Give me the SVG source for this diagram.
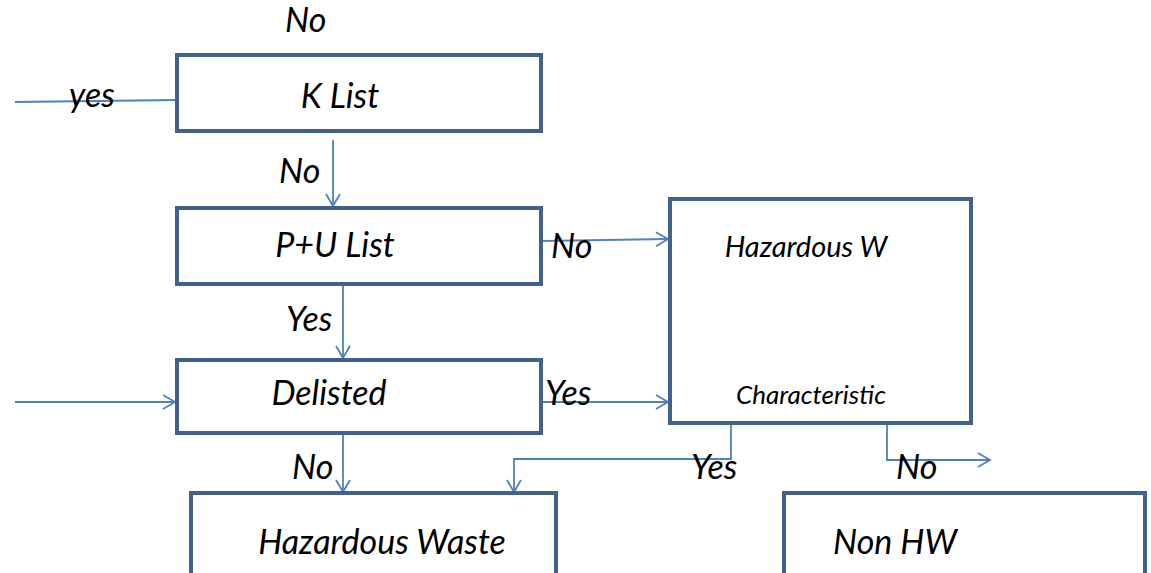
<svg xmlns="http://www.w3.org/2000/svg" width="1151" height="573" viewBox="0 0 1151 573">
  <style>
    .box { fill: #ffffff; stroke: #41618f; stroke-width: 4; }
    .conn { fill: none; stroke: #4f81bd; stroke-width: 1.8; }
    .lbl { font-family: Lato, "Open Sans", "Liberation Sans", sans-serif; font-style: italic; fill: #000000; }
    .big { font-size: 34px; }
    .mid { font-size: 29px; }
    .small { font-size: 26px; }
  </style>
  <defs>
    <marker id="chev" markerUnits="userSpaceOnUse" markerWidth="16" markerHeight="18" refX="13" refY="8" orient="auto" viewBox="0 0 16 18">
      <path d="M1,1 L13,8 L1,15" fill="none" stroke="#4f81bd" stroke-width="1.8"/>
    </marker>
  </defs>

  <rect width="1151" height="573" fill="#ffffff"/>

  <g id="connectors">
    <line class="conn" x1="15" y1="102" x2="177" y2="100"/>
    <line class="conn" x1="333" y1="140" x2="333" y2="206" marker-end="url(#chev)"/>
    <line class="conn" x1="541" y1="241" x2="668" y2="239" marker-end="url(#chev)"/>
    <line class="conn" x1="343" y1="284" x2="343" y2="358" marker-end="url(#chev)"/>
    <line class="conn" x1="15" y1="402" x2="175" y2="402" marker-end="url(#chev)"/>
    <line class="conn" x1="541" y1="402" x2="668" y2="402" marker-end="url(#chev)"/>
    <line class="conn" x1="343" y1="433" x2="343" y2="492" marker-end="url(#chev)"/>
    <polyline class="conn" points="731,424 731,459 514,459 514,492" marker-end="url(#chev)"/>
    <polyline class="conn" points="887,424 887,460 990,460" marker-end="url(#chev)"/>
  </g>

  <g id="label-top-no"><text class="lbl big" x="285" y="32">No</text></g>

  <g id="k-list">
    <rect class="box" x="177" y="55" width="364" height="76"/>
    <text class="lbl big" x="340" y="108" text-anchor="middle">K List</text>
  </g>
  <g id="label-yes-k"><text class="lbl big" x="69" y="107">yes</text></g>
  <g id="label-no-k"><text class="lbl big" x="279" y="183">No</text></g>

  <g id="pu-list">
    <rect class="box" x="177" y="208" width="364" height="76"/>
    <text class="lbl big" x="335" y="257" text-anchor="middle">P+U List</text>
  </g>
  <g id="label-no-pu"><text class="lbl big" x="551" y="258">No</text></g>
  <g id="label-yes-pu"><text class="lbl big" x="286" y="331">Yes</text></g>

  <g id="hazardous-w">
    <rect class="box" x="670" y="199" width="301" height="224"/>
    <text class="lbl mid" x="806" y="257" text-anchor="middle">Hazardous W</text>
    <text class="lbl small" x="811" y="404" text-anchor="middle">Characteristic</text>
  </g>

  <g id="delisted">
    <rect class="box" x="177" y="360" width="364" height="73"/>
    <text class="lbl big" x="329" y="405" text-anchor="middle">Delisted</text>
  </g>
  <g id="label-yes-del"><text class="lbl big" x="545" y="405">Yes</text></g>
  <g id="label-no-del"><text class="lbl big" x="292" y="479">No</text></g>
  <g id="label-yes-char"><text class="lbl big" x="691" y="479">Yes</text></g>
  <g id="label-no-char"><text class="lbl big" x="896" y="479">No</text></g>

  <g id="hazardous-waste">
    <rect class="box" x="191" y="493" width="365" height="90"/>
    <text class="lbl big" x="382" y="554" text-anchor="middle">Hazardous Waste</text>
  </g>

  <g id="non-hw">
    <rect class="box" x="784" y="493" width="361" height="90"/>
    <text class="lbl big" x="895" y="554" text-anchor="middle">Non HW</text>
  </g>
</svg>
